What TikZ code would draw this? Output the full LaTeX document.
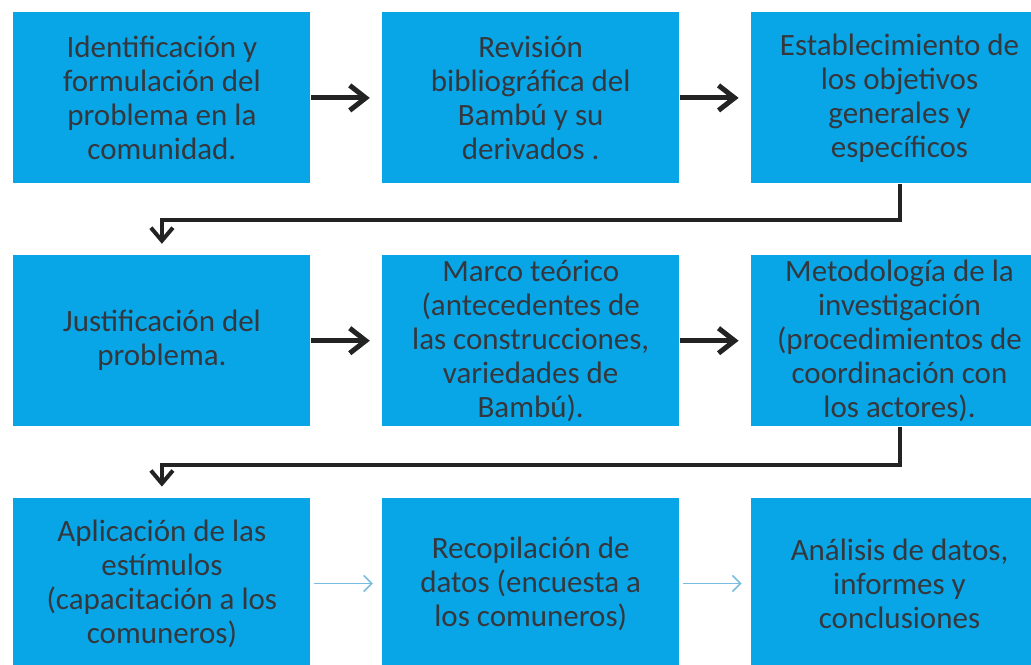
\documentclass[tikz,border=0pt]{standalone}
\usepackage{fontspec}
\setmainfont{Carlito}
\usetikzlibrary{positioning,arrows.meta}
\definecolor{boxblue}{RGB}{8,166,230}
\definecolor{textgray}{RGB}{52,56,62}
\definecolor{arrowgray}{RGB}{35,35,35}
\definecolor{lightblue}{RGB}{120,188,225}

\begin{document}
\begin{tikzpicture}[
x=0.5pt,y=-0.5pt,
rect/.style={
fill=boxblue,
text=textgray,
align=center,
inner sep=0pt,
minimum width=148.5pt,
minimum height = 85.5pt,
font=\fontsize{15.5}{17}\selectfont
},
darrow/.style={draw=arrowgray,line width=2.5pt,-{Straight Barb[length=8pt,width=12.5pt]},shorten >=6pt},
elbow/.style={draw=arrowgray,line width=2pt,-{Straight Barb[length=6.5pt,width=11pt]},shorten >=5.5pt},
larrow/.style={draw=lightblue,line width=0.8pt,-{Straight Barb[length=4pt,width=8pt]},shorten <=1.5pt,shorten >=4.5pt},
node distance=35.5pt
]
\useasboundingbox (0,0) rectangle (1031,664);

\node[rect, anchor=north west] (1) at (13,12) {Identificación y\\formulación del\\problema en la\\comunidad.};
\node[rect, right=of 1] (2) {Revisión\\bibliográfica del\\Bambú y su\\derivados .};
\node[rect, right=of 2] (3) {Establecimiento de\\los objetivos\\generales y\\específicos};
\node[rect, below=of 1] (4) {Justificación del\\problema.};
\node[rect, right=of 4] (5) {Marco teórico\\(antecedentes de\\las construcciones,\\variedades de\\Bambú).};
\node[rect, right=of 5] (6) {Metodología de la\\investigación\\(procedimientos de\\coordinación con\\los actores).};
\node[rect, below=of 4] (7) {Aplicación de las\\estímulos\\(capacitación a los\\comuneros)};
\node[rect, right=of 7] (8) {Recopilación de\\datos (encuesta a\\los comuneros)};
\node[rect, right=of 8] (9) {Análisis de datos,\\informes y\\conclusiones};

\draw[darrow] (1) -- (2);
\draw[darrow] (2) -- (3);
\draw[elbow] (3.south) -- ++(0,36) -| (4.north);
\draw[darrow] (4) -- (5);
\draw[darrow] (5) -- (6);
\draw[elbow] (6.south) -- ++(0,38) -| (7.north);
\draw[larrow] (7) -- (8);
\draw[larrow] (8) -- (9);

\end{tikzpicture}
\end{document}
